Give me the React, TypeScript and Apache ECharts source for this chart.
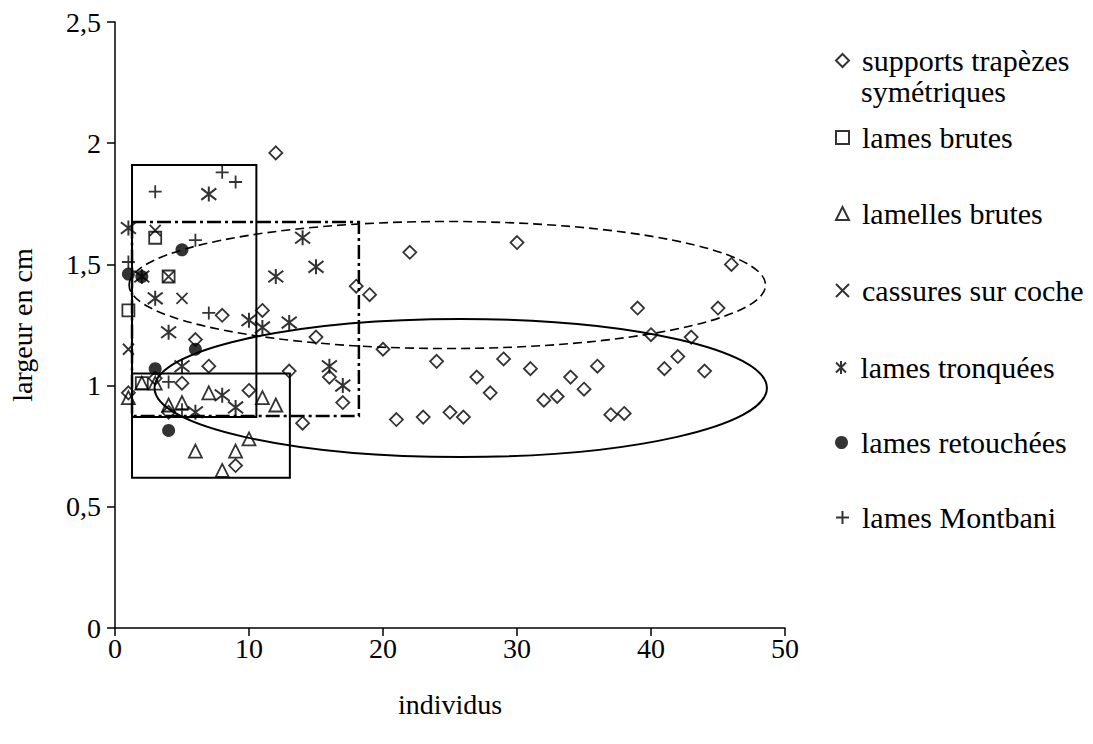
import React, { useEffect, useRef } from "react";
import * as echarts from "echarts";

// ---- data ----
const diamondX = [1, 3, 4, 5, 6, 7, 8, 9, 10, 11, 12, 13, 14, 15, 16, 17, 18, 19, 20, 21, 22, 23, 24, 25, 26, 27, 28, 29, 30, 31, 32, 33, 34, 35, 36, 37, 38, 39, 40, 41, 42, 43, 44, 45, 46];
const diamondY = [0.97, 1.03, 0.89, 1.01, 1.19, 1.08, 1.29, 0.67, 0.98, 1.31, 1.96, 1.06, 0.845, 1.2, 1.035, 0.93, 1.41, 1.375, 1.15, 0.86, 1.55, 0.87, 1.1, 0.89, 0.87, 1.035, 0.97, 1.11, 1.59, 1.07, 0.94, 0.955, 1.035, 0.985, 1.08, 0.88, 0.885, 1.32, 1.21, 1.07, 1.12, 1.2, 1.06, 1.32, 1.5];

const squareX = [1, 2, 3, 4];
const squareY = [1.31, 1.01, 1.61, 1.45];

const triangleX = [1, 2, 3, 4, 5, 6, 7, 8, 9, 10, 11, 12];
const triangleY = [0.95, 1.01, 1.01, 0.92, 0.93, 0.73, 0.97, 0.65, 0.73, 0.78, 0.95, 0.92];

const crossX = [1, 3, 4, 5];
const crossY = [1.15, 1.64, 1.45, 1.36];

const asteriskX = [1, 2, 3, 4, 5, 6, 7, 8, 9, 10, 11, 12, 13, 14, 15, 16, 17];
const asteriskY = [1.65, 1.45, 1.36, 1.22, 1.08, 0.89, 1.79, 0.96, 0.91, 1.27, 1.24, 1.45, 1.26, 1.61, 1.49, 1.08, 1.0];

const circleX = [1, 2, 3, 4, 5, 6];
const circleY = [1.46, 1.45, 1.07, 0.815, 1.56, 1.15];

const plusX = [1, 3, 4, 5, 6, 7, 8, 9];
const plusY = [1.51, 1.8, 1.015, 0.9, 1.6, 1.3, 1.88, 1.84];

// groupings: [xMin, yMin, xMax, yMax]
const solidRects = [
  [1.27, 0.87, 10.55, 1.91],
  [1.27, 0.62, 13.05, 1.05],
];
const dashDotRects = [[1.27, 0.875, 18.2, 1.675]];
// ellipses: [cx, cy, rx, ry]
const solidEllipses = [[25.8, 0.99, 22.85, 0.285]];
const dashedEllipses = [[24.8, 1.415, 23.75, 0.262]];

const names = [
  "supports trapèzes symétriques",
  "lames brutes",
  "lamelles brutes",
  "cassures sur coche",
  "lames tronquées",
  "lames retouchées",
  "lames Montbani",
];
const legendTops = [60, 137, 213, 290, 367, 442, 517];

const xTicks = [0, 10, 20, 30, 40, 50];
const yTickStep = 0.5;

const FONT = "Liberation Serif, Times New Roman, serif";
const FS = 28;
const LFS = 30;

const zip = (xs: number[], ys: number[]) => xs.map((x, i) => [x, ys[i]]);

const CROSS = "path://M0,0L10,10M10,0L0,10";
const ASTER = "path://M0,0L10,10M10,0L0,10M5,-1.5L5,11.5";
const PLUS = "path://M5,0L5,10M0,5L10,5";

export default function App() {
  const ref = useRef<HTMLDivElement>(null);
  useEffect(() => {
    if (!ref.current) return;
    const chart = echarts.init(ref.current, null, { renderer: "svg" });
    const open = { color: "transparent", borderColor: "#000", borderWidth: 1.8 };
    const scatter = (name: string, data: number[][], symbol: string, size: number, style: any) => ({
      type: "scatter",
      name,
      data,
      symbol,
      symbolSize: size,
      itemStyle: style,
      z: 3,
      silent: true,
    });
    const rectSeries = (data: number[][], dash: any, width: number) => ({
      type: "custom",
      data,
      silent: true,
      z: 2,
      clip: false,
      renderItem: (_p: any, api: any) => {
        const a = api.coord([api.value(0), api.value(3)]);
        const b = api.coord([api.value(2), api.value(1)]);
        return {
          type: "rect",
          shape: { x: a[0], y: a[1], width: b[0] - a[0], height: b[1] - a[1] },
          style: { fill: "none", stroke: "#000", lineWidth: width, lineDash: dash },
        };
      },
    });
    const ellipseSeries = (data: number[][], dash: any, width: number) => ({
      type: "custom",
      data,
      silent: true,
      z: 2,
      clip: false,
      renderItem: (_p: any, api: any) => {
        const c = api.coord([api.value(0), api.value(1)]);
        const s = api.size([api.value(2), api.value(3)]);
        return {
          type: "ellipse",
          shape: { cx: c[0], cy: c[1], rx: s[0], ry: s[1] },
          style: { fill: "none", stroke: "#000", lineWidth: width, lineDash: dash },
        };
      },
    });

    const legends = names.map((n, i) => ({
      data: [n],
      orient: "vertical",
      left: 830,
      top: legendTops[i] - 21,
      itemWidth: 13,
      itemHeight: 13,
      selectedMode: false,
      formatter: i === 0 ? () => "supports trapèzes" : undefined,
      textStyle: { fontFamily: FONT, fontSize: LFS, color: "#000", lineHeight: 33, padding: [0, 0, 0, 8] },
    }));

    chart.setOption({
      animation: false,
      backgroundColor: "#fff",
      grid: { left: 115, top: 22, width: 670, height: 606, outerBoundsMode: "none", containLabel: false },
      legend: legends,
      graphic: [
        {
          type: "text",
          left: 861,
          top: 93 - 17,
          style: { text: "symétriques", font: `${LFS}px ${FONT}`, fill: "#000" },
        },
      ],
      xAxis: {
        type: "value",
        min: xTicks[0],
        max: xTicks[xTicks.length - 1],
        interval: 10,
        name: "individus",
        nameLocation: "middle",
        nameGap: 62,
        nameTextStyle: { fontFamily: FONT, fontSize: FS, color: "#000" },
        axisLine: { lineStyle: { color: "#000", width: 1.5 } },
        axisTick: { show: true, length: 8, lineStyle: { color: "#000", width: 1.5 } },
        axisLabel: { fontFamily: FONT, fontSize: FS, color: "#000", margin: 6 },
        splitLine: { show: false },
      },
      yAxis: {
        type: "value",
        min: 0,
        max: 2.5,
        interval: yTickStep,
        name: "largeur en cm",
        nameLocation: "middle",
        nameGap: 79,
        nameTextStyle: { fontFamily: FONT, fontSize: FS, color: "#000" },
        axisLine: { show: true, lineStyle: { color: "#000", width: 1.5 } },
        axisTick: { show: true, length: 8, lineStyle: { color: "#000", width: 1.5 } },
        axisLabel: {
          fontFamily: FONT,
          fontSize: FS,
          color: "#000",
          margin: 14,
          formatter: (v: number) => String(v).replace(".", ","),
        },
        splitLine: { show: false },
      },
      series: [
        rectSeries(solidRects, null, 2),
        rectSeries(dashDotRects, [14, 4, 3, 4], 2.5),
        ellipseSeries(solidEllipses, null, 2),
        ellipseSeries(dashedEllipses, [9, 5], 1.6),
        scatter(names[0], zip(diamondX, diamondY), "diamond", 13, open),
        scatter(names[1], zip(squareX, squareY), "rect", 12, open),
        scatter(names[2], zip(triangleX, triangleY), "triangle", 13, open),
        scatter(names[3], zip(crossX, crossY), CROSS, 11, { color: "transparent", borderColor: "#000", borderWidth: 1.8 }),
        scatter(names[4], zip(asteriskX, asteriskY), ASTER, 15, { color: "transparent", borderColor: "#000", borderWidth: 2 }),
        scatter(names[5], zip(circleX, circleY), "circle", 13, { color: "#000", borderColor: "#000", borderWidth: 0 }),
        scatter(names[6], zip(plusX, plusY), PLUS, 13, { color: "transparent", borderColor: "#000", borderWidth: 1.8 }),
      ],
    });
    return () => chart.dispose();
  }, []);
  return <div ref={ref} style={{ position: "absolute", left: 0, top: 0, width: 1093, height: 744 }} />;
}
